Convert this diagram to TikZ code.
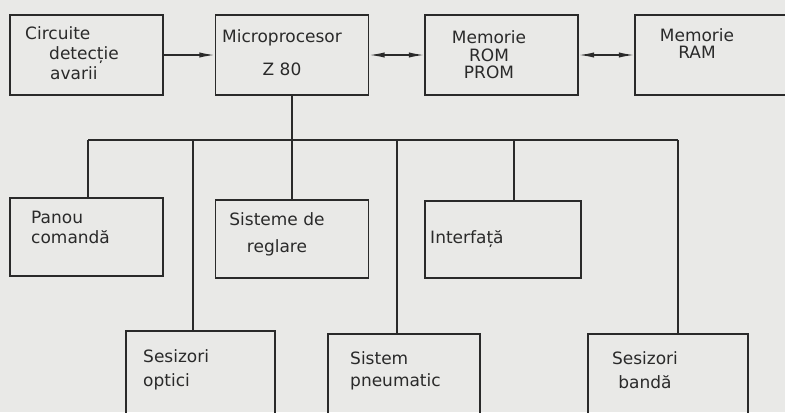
\documentclass[tikz,border=0pt]{standalone}
\usepackage{xcolor}
\usepackage{fontspec}
\setmainfont{DejaVu Sans}
\usepackage{tikz}
\usetikzlibrary{arrows.meta, positioning, calc}
\definecolor{paper}{HTML}{E9E9E7}
\definecolor{ink}{HTML}{2A2A2A}

\tikzset{
  box/.style={draw=ink, line width=1.4pt, minimum width=4.59cm, minimum height=2.4cm, inner sep=0pt},
  txt/.style={text=ink, font=\fontsize{14.5}{17}\selectfont, inner sep=0pt},
  link/.style={draw=ink, line width=1.2pt},
  >={Latex[length=13pt, width=4.5pt]}
}

\begin{document}
\begin{tikzpicture}[x=0.03cm, y=-0.03cm]
      \fill[paper] (0,0) rectangle (785,412);
      \useasboundingbox (0,0) rectangle (785,412);

      % upper row
      \node[box] (crc) at (86.5,55) {};
      \node[box] (cpu) at (292,55) {};
      \node[box] (rom) at (501.5,55) {};
      \node[box, minimum width=5.1cm] (ram) at (720,55) {};

      \node[txt, anchor=west, align=left] (t-crc) at (25,53) {Circuite\\\hspace*{0.72cm}detecție\\\hspace*{0.75cm}avarii};
      \node[txt, align=center] (t-cpu) at (282,53) {Microprocesor\\[11pt]Z 80};
      \node[txt, align=center] (t-rom) at (489,55) {Memorie\\[-2pt]ROM\\[-2pt]PROM};
      \node[txt, align=center] (t-ram) at (697,44) {Memorie\\[-2.5pt]RAM};

      \draw[link, ->] (crc) -- (cpu);
      \draw[link, <->] (cpu) -- (rom);
      \draw[link, <->] (rom) -- (ram);

      % middle row
      \node[box, minimum height=2.34cm] (pan) at (86.5,237) {};
      \node[box, minimum height=2.34cm] (reg) at (292,239) {};
      \node[box, minimum width=4.68cm, minimum height=2.31cm] (itf) at (503,239.5) {};

      \node[txt, anchor=west, align=left] (t-pan) at (31,227.5) {Panou\\comandă};
      \node[txt, align=center] (t-reg) at (277,234.5) {Sisteme de\\[6pt]reglare};
      \node[txt, anchor=west] (t-itf) at (430,239) {Interfață};

      % lower row (cut by the page edge)
      \node[box, minimum width=4.47cm, minimum height=2.52cm] (opt) at (200.5,373) {};
      \node[box, minimum width=4.56cm, minimum height=2.52cm] (pnm) at (404,376) {};
      \node[box, minimum width=4.8cm, minimum height=2.52cm] (bnd) at (668,376) {};

      \node[txt, anchor=west, align=left] (t-opt) at (143,370) {Sesizori\\[3pt]optici};
      \node[txt, anchor=west, align=left] (t-pnm) at (350,371) {Sistem\\[2pt]pneumatic};
      \node[txt, align=center] (t-bnd) at (645,370) {Sesizori\\[3pt]bandă};

      % bus
      \coordinate (busA) at (88,140);
      \coordinate (busB) at (193,140);
      \coordinate (busD) at (397,140);
      \coordinate (busE) at (514,140);
      \coordinate (busF) at (678,140);

      \draw[link] (cpu.south) -- (reg.north);
      \draw[link] (busA) -- (busF);
      \draw[link] (busA) -- (busA |- pan.north);
      \draw[link] (busB) -- (busB |- opt.north);
      \draw[link] (busD) -- (busD |- pnm.north);
      \draw[link] (busE) -- (busE |- itf.north);
      \draw[link] (busF) -- (busF |- bnd.north);
    \end{tikzpicture}
\end{document}
